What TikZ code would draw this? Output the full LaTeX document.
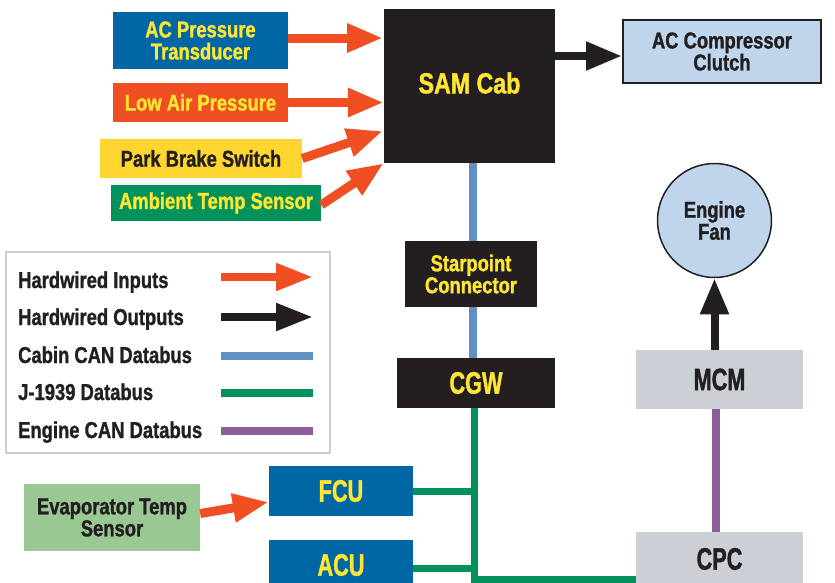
\documentclass[tikz,border=0pt]{standalone}
\usepackage{fontspec}
\usetikzlibrary{arrows.meta,calc}
\newfontfamily\lab[FakeStretch=0.8,FakeBold=1.2]{Liberation Sans}
\newfontfamily\labn[FakeStretch=0.7,FakeBold=1.2]{Liberation Sans}
\definecolor{cblue}{HTML}{0066A4}
\definecolor{corange}{HTML}{F04E23}
\definecolor{cyelbox}{HTML}{FFD630}
\definecolor{ctxt}{HTML}{FFE633}
\definecolor{cgreen}{HTML}{00925A}
\definecolor{cblack}{HTML}{231F20}
\definecolor{clblue}{HTML}{BFD5EC}
\definecolor{cgray}{HTML}{CCCFD6}
\definecolor{clgreen}{HTML}{99C893}
\definecolor{cbus}{HTML}{6090C4}
\definecolor{cpurple}{HTML}{8C5E9B}
\definecolor{cborder}{HTML}{C8CDD6}
\tikzset{
  box/.style={rectangle, inner sep=0pt, align=center, text=cblack,
    font=\lab\bfseries\fontsize{23}{22}\selectfont},
  bigbox/.style={rectangle, inner sep=0pt, align=center, text=cblack,
    font=\labn\bfseries\fontsize{31}{31}\selectfont},
  legtext/.style={anchor=base west, inner sep=0pt, text=cblack,
    font=\lab\bfseries\fontsize{23}{22}\selectfont},
  inarrow/.style={draw=corange, line width=9pt, -{Triangle[length=36pt,width=27pt]}},
  outarrow/.style={draw=cblack, line width=8pt, -{Triangle[length=36pt,width=27pt]}},
  cabinbus/.style={draw=cbus, line width=8pt},
  jbus/.style={draw=cgreen, line width=7pt},
  enginebus/.style={draw=cpurple, line width=8pt},
}
\begin{document}
\begin{tikzpicture}[x=1pt,y=-1pt]
\useasboundingbox (0,0) rectangle (835,582);
% legend frame
\draw[cborder, line width=1.5pt] (6,252) rectangle (330,453);
% input boxes
\node[box, fill=cblue, text=ctxt, minimum width=175pt, minimum height=57pt] (acp) at (200.5,40.5) {AC Pressure\\Transducer};
\node[box, fill=corange, text=ctxt, minimum width=175pt, minimum height=39pt] (low) at (200.5,102.5) {Low Air Pressure};
\node[box, fill=cyelbox, minimum width=202pt, minimum height=39pt] (park) at (201,158.5) {Park Brake Switch};
\node[box, fill=cgreen, text=ctxt, minimum width=210pt, minimum height=36pt] (amb) at (216,203) {Ambient Temp Sensor};
% SAM Cab
\node[box, fill=cblack, minimum width=171pt, minimum height=154pt] (sam) at (469.5,86) {};
\node[box, text=ctxt, font=\lab\bfseries\fontsize{29}{29}\selectfont] (samt) at (469.5,83) {SAM Cab};
\node[box, fill=clblue, draw=cblack, line width=2pt, minimum width=198pt, minimum height=63pt] (acc) at (722,51.5) {AC Compressor\\Clutch};
\node[box, fill=cblack, text=ctxt, minimum width=132pt, minimum height=66pt] (star) at (471,274) {Starpoint\\Connector};
\node[bigbox, fill=cblack, text=ctxt, minimum width=158pt, minimum height=50pt] (cgw) at (476,383) {CGW};
\node[box, circle, fill=clblue, draw=cblack, line width=1.5pt, minimum size=114pt] (fan) at (714.5,220.5) {Engine\\Fan};
\node[bigbox, fill=cgray, minimum width=167pt, minimum height=59pt] (mcm) at (719.5,379.5) {MCM};
\node[bigbox, fill=cgray, minimum width=167pt, minimum height=54pt] (cpc) at (719.5,559) {CPC};
\node[bigbox, fill=cblue, text=ctxt, minimum width=144pt, minimum height=50pt] (fcu) at (341,491) {FCU};
\node[bigbox, fill=cblue, text=ctxt, minimum width=144pt, minimum height=50pt] (acu) at (341,565) {ACU};
\node[box, fill=clgreen, minimum width=176pt, minimum height=67pt] (evap) at (112,517.5) {Evaporator Temp\\Sensor};
% helper coordinates
\coordinate (busx) at (473,0);
\coordinate (jx) at (474,0);
\coordinate (bot) at (0,579);
\coordinate (purx) at (716,0);
\coordinate (outy) at (0,56);
\coordinate (acuy) at (0,568);
% buses
\draw[cabinbus] (sam.south -| busx) -- (star.north -| busx);
\draw[cabinbus] (star.south -| busx) -- (cgw.north -| busx);
\draw[jbus] (cgw.south -| jx) -- (jx |- bot) -- (cpc.west |- bot);
\draw[jbus] (fcu.east) -- (fcu.east -| jx);
\draw[jbus] (acu.east |- acuy) -- (jx |- acuy);
\draw[enginebus] (mcm.south -| purx) -- (cpc.north -| purx);
% outputs
\draw[outarrow] (sam.east |- outy) -- (acc.west |- outy);
\draw[outarrow] (mcm.north -| fan.south) -- (fan.south);
% inputs
\coordinate (t1) at (383,38);
\coordinate (t3) at (383,131);
\draw[inarrow] (acp.east |- t1) -- (t1);
\draw[inarrow] (low.east) -- (sam.west |- low.east);
\draw[inarrow] (park.east) -- (t3);
\draw[inarrow] ([yshift=-2pt]amb.east) -- (sam.south west);
\draw[inarrow] ([yshift=4pt]evap.east) -- ([yshift=-11pt]fcu.west);
% legend
\node[legtext] (l1) at (18,288) {Hardwired Inputs};
\node[legtext] (l2) at (18,325) {Hardwired Outputs};
\node[legtext] (l3) at (18,363) {Cabin CAN Databus};
\node[legtext] (l4) at (18,400) {J-1939 Databus};
\node[legtext] (l5) at (18,438) {Engine CAN Databus};
\coordinate (a1) at (221,277); \coordinate (b1) at (313,277);
\coordinate (a2) at (221,317); \coordinate (b2) at (313,317);
\coordinate (a3) at (221,356); \coordinate (b3) at (313,356);
\coordinate (a4) at (221,393); \coordinate (b4) at (313,393);
\coordinate (a5) at (221,431); \coordinate (b5) at (313,431);
\draw[inarrow, line width=8pt, -{Triangle[length=37pt,width=26pt]}] (a1) -- (b1);
\draw[outarrow, -{Triangle[length=37pt,width=26pt]}] (a2) -- (b2);
\draw[cabinbus] (a3) -- (b3);
\draw[jbus, line width=8pt] (a4) -- (b4);
\draw[enginebus] (a5) -- (b5);
\end{tikzpicture}
\end{document}
